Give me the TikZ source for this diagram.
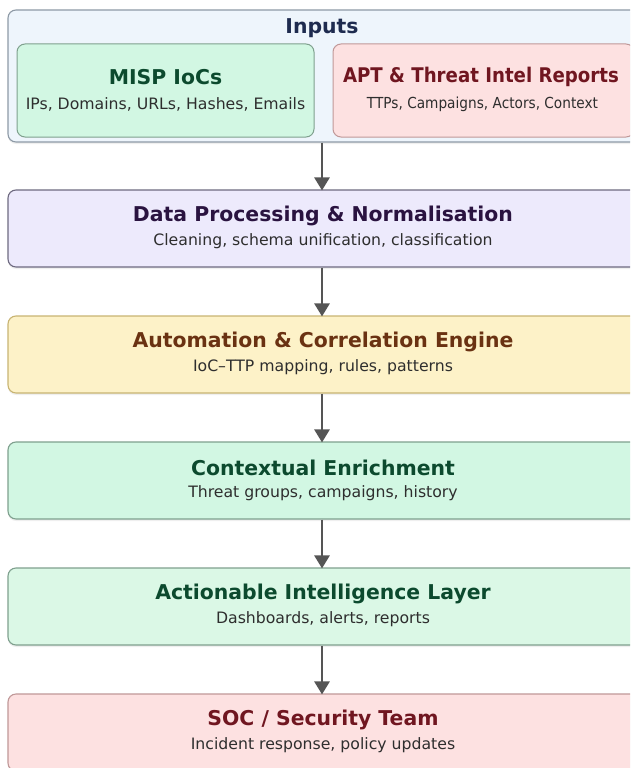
\documentclass[tikz,border=0pt]{standalone}
\usepackage{fontspec}
\setmainfont{DejaVu Sans}
\newfontfamily\narrowfont[FakeStretch=0.9]{DejaVu Sans}
\usetikzlibrary{arrows.meta,shadows}

\definecolor{inbg}{HTML}{EEF5FC}
\definecolor{inln}{HTML}{8E9AA6}
\definecolor{intx}{HTML}{1E2B4F}
\definecolor{grbg}{HTML}{D2F7E3}
\definecolor{grln}{HTML}{7FA08E}
\definecolor{grtx}{HTML}{0C4A2E}
\definecolor{lgbg}{HTML}{DBF8E6}
\definecolor{rdbg}{HTML}{FDE1E1}
\definecolor{rdln}{HTML}{C09898}
\definecolor{rdtx}{HTML}{701620}
\definecolor{pubg}{HTML}{EDEAFC}
\definecolor{puln}{HTML}{6E6A80}
\definecolor{putx}{HTML}{2A1340}
\definecolor{ylbg}{HTML}{FDF2C8}
\definecolor{ylln}{HTML}{C8B472}
\definecolor{yltx}{HTML}{6A3212}
\definecolor{subtx}{HTML}{2E2E2E}
\definecolor{arr}{HTML}{555555}

\begin{document}
\begin{tikzpicture}[x=1pt,y=-1pt,
  panel/.style={draw, line width=1.1pt, rounded corners=8pt, minimum width=632pt,
    minimum height=77pt, inner sep=0pt,
    drop shadow={opacity=0.12, shadow xshift=0pt, shadow yshift=-2pt}},
  inbox/.style={draw, line width=1pt, rounded corners=8pt, minimum height=93pt, inner sep=0pt},
  ttl/.style={font=\fontsize{20.4}{24}\selectfont\bfseries, anchor=center},
  sub/.style={font=\fontsize{15.7}{19}\selectfont, text=subtx, anchor=center},
  flow/.style={draw=arr, line width=2.6pt, -{Triangle[length=13pt,width=15pt]}, shorten >=-1pt}
]
\useasboundingbox (0,0) rectangle (630,768);
\clip (0,0) rectangle (630,768);
\fill[white] (0,0) rectangle (630,768);

% input sources
\node[panel, fill=inbg, draw=inln, minimum width=634pt, minimum height=132pt] (inputs) at (325,76) {};
\node[ttl, text=intx] (inputsT) at (322,28) {Inputs};
\node[inbox, fill=grbg, draw=grln, minimum width=297pt] (misp) at (165.5,90.5) {};
\node[ttl, text=grtx] (mispT) at (165.5,77) {MISP IoCs};
\node[sub] (mispS) at (165.5,104) {IPs, Domains, URLs, Hashes, Emails};
\node[inbox, fill=rdbg, draw=rdln, minimum width=301pt] (apt) at (483.5,90.5) {};
\node[ttl, text=rdtx, font=\fontsize{20.2}{24}\narrowfont\bfseries] (aptT) at (481,77) {APT \& Threat Intel Reports};
\node[sub, font=\fontsize{15.2}{19}\narrowfont] (aptS) at (482.5,104) {TTPs, Campaigns, Actors, Context};

% processing pipeline
\node[panel, fill=pubg, draw=puln] (proc) at (324,228.5) {};
\node[ttl, text=putx] at (323,215.5) {Data Processing \& Normalisation};
\node[sub] at (323,241) {Cleaning, schema unification, classification};

\node[panel, fill=ylbg, draw=ylln] (auto) at (324,354.5) {};
\node[ttl, text=yltx] at (323,342) {Automation \& Correlation Engine};
\node[sub] at (323,367) {IoC–TTP mapping, rules, patterns};

\node[panel, fill=grbg, draw=grln] (ctx) at (324,480.5) {};
\node[ttl, text=grtx] at (323,468) {Contextual Enrichment};
\node[sub] at (323,493) {Threat groups, campaigns, history};

\node[panel, fill=lgbg, draw=grln] (act) at (324,606.5) {};
\node[ttl, text=grtx] at (323,594) {Actionable Intelligence Layer};
\node[sub] at (323,619) {Dashboards, alerts, reports};

\node[panel, fill=rdbg, draw=rdln] (soc) at (324,732.5) {};
\node[ttl, text=rdtx] at (323,720) {SOC / Security Team};
\node[sub] at (323,745) {Incident response, policy updates};

% connectors
\draw[flow] (inputs.south -| 322,0) -- (proc.north -| 322,0);
\draw[flow] (proc.south -| 322,0) -- (auto.north -| 322,0);
\draw[flow] (auto.south -| 322,0) -- (ctx.north -| 322,0);
\draw[flow] (ctx.south -| 322,0) -- (act.north -| 322,0);
\draw[flow] (act.south -| 322,0) -- (soc.north -| 322,0);
\end{tikzpicture}
\end{document}
